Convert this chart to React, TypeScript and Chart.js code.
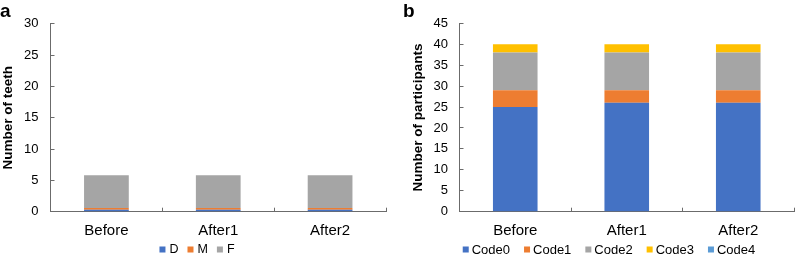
import React, { useEffect, useRef } from "react";
import { Chart, registerables } from "chart.js";

Chart.register(...registerables);

// ---------- data ----------
const CATEGORIES = ["Before", "After1", "After2"];

const TEETH_LABELS = ["D", "M", "F"];
const TEETH_D = [0.3, 0.3, 0.3];
const TEETH_M = [0.3, 0.3, 0.3];
const TEETH_F = [5.2, 5.2, 5.2];

const CODE_LABELS = ["Code0", "Code1", "Code2", "Code3", "Code4"];
const CODE0 = [25, 26, 26];
const CODE1 = [4, 3, 3];
const CODE2 = [9, 9, 9];
const CODE3 = [2, 2, 2];
const CODE4 = [0, 0, 0];

const TEETH_AXIS = { min: 0, max: 30, step: 5 };
const PART_AXIS = { min: 0, max: 45, step: 5 };

// ---------- style ----------
const FONT = "'Liberation Sans', Arial, Helvetica, sans-serif";
const COLORS = ["#4472C4", "#ED7D31", "#A5A5A5", "#FFC000", "#5B9BD5"];
const AXIS_COLOR = "#6b6b6b";

const decorPlugin = {
  id: "panelDecor",
  afterDraw(chart: any, _args: any, opts: any) {
    const ctx = chart.ctx;
    ctx.save();
    ctx.font = `bold 19px ${FONT}`;
    ctx.fillStyle = "#000";
    ctx.textAlign = "left";
    ctx.textBaseline = "alphabetic";
    ctx.fillText(opts.letter, opts.letterX, opts.letterY);

    ctx.font = `${opts.legendSize}px ${FONT}`;
    const box = 6;
    const items = chart.data.datasets.map((d: any) => ({ text: d.label, color: d.backgroundColor }));
    const widths = items.map((it: any) => box + opts.boxGap + ctx.measureText(it.text).width);
    const total = widths.reduce((a: number, b: number) => a + b, 0) + opts.spacing * (items.length - 1);
    let x = opts.legendCenter - total / 2;
    const y = opts.legendY;
    ctx.textBaseline = "middle";
    items.forEach((it: any, i: number) => {
      ctx.fillStyle = it.color;
      ctx.fillRect(x, y - box / 2, box, box);
      ctx.fillStyle = "#000";
      ctx.fillText(it.text, x + box + opts.boxGap, y + 0.5);
      x += widths[i] + opts.spacing;
    });
    ctx.restore();
  },
};

type PanelProps = {
  left: number;
  width: number;
  labels: string[];
  series: number[][];
  axis: { min: number; max: number; step: number };
  yTitle: string;
  padLeft: number;
  padRight: number;
  yAxisWidth: number;
  yTickPad: number;
  letter: string;
  letterX: number;
  legendCenter: number;
  legendSize: number;
  spacing: number;
  boxGap: number;
};

function BarPanel(p: PanelProps) {
  const ref = useRef<HTMLCanvasElement | null>(null);
  useEffect(() => {
    if (!ref.current) return;
    const chart = new Chart(ref.current, {
      type: "bar",
      data: {
        labels: CATEGORIES,
        datasets: p.series.map((vals, i) => ({
          label: p.labels[i],
          data: vals,
          backgroundColor: COLORS[i],
          borderWidth: 0,
          categoryPercentage: 1,
          barPercentage: 0.4,
        })),
      },
      options: {
        responsive: false,
        animation: false,
        devicePixelRatio: 1,
        layout: { padding: { top: 23, left: p.padLeft, right: p.padRight, bottom: 0 } },
        plugins: {
          legend: { display: false },
          tooltip: { enabled: false },
          panelDecor: {
            letter: p.letter,
            letterX: p.letterX,
            letterY: 16.5,
            legendCenter: p.legendCenter,
            legendY: 249.5,
            legendSize: p.legendSize,
            spacing: p.spacing,
            boxGap: p.boxGap,
          },
        } as any,
        scales: {
          x: {
            stacked: true,
            grid: {
              display: true,
              drawOnChartArea: false,
              offset: true,
              color: AXIS_COLOR,
              tickLength: -4,
              lineWidth: 1,
            },
            border: { display: true, color: AXIS_COLOR, width: 1 },
            ticks: { color: "#000", font: { family: FONT, size: 15 }, padding: 14 },
            afterFit: (s: any) => {
              s.height = 43.3;
            },
          },
          y: {
            stacked: true,
            min: p.axis.min,
            max: p.axis.max,
            grid: {
              display: true,
              drawOnChartArea: false,
              color: AXIS_COLOR,
              tickLength: -4,
              lineWidth: 1,
            },
            border: { display: true, color: AXIS_COLOR, width: 1 },
            ticks: {
              stepSize: p.axis.step,
              color: "#000",
              font: { family: FONT, size: 13 },
              padding: p.yTickPad,
            },
            title: {
              display: true,
              text: p.yTitle,
              color: "#000",
              font: { family: FONT, size: 13.5, weight: "bold" },
              padding: 0,
            },
            afterFit: (s: any) => {
              s.width = p.yAxisWidth;
            },
          },
        },
      },
      plugins: [decorPlugin as any],
    });
    return () => chart.destroy();
  }, []);
  return (
    <div style={{ position: "absolute", left: p.left, top: 0, width: p.width, height: 255 }}>
      <canvas ref={ref} width={p.width} height={255} style={{ width: p.width, height: 255, display: "block" }} />
    </div>
  );
}

export default function App() {
  return (
    <div style={{ position: "absolute", left: 0, top: 0, width: 796, height: 255, background: "#fff" }}>
      <BarPanel
        left={0}
        width={398}
        labels={TEETH_LABELS}
        series={[TEETH_D, TEETH_M, TEETH_F]}
        axis={TEETH_AXIS}
        yTitle="Number of teeth"
        padLeft={0}
        padRight={12}
        yAxisWidth={50.5}
        yTickPad={16}
        letter="a"
        letterX={0}
        legendCenter={197}
        legendSize={12.5}
        spacing={9}
        boxGap={4}
      />
      <BarPanel
        left={398}
        width={398}
        labels={CODE_LABELS}
        series={[CODE0, CODE1, CODE2, CODE3, CODE4]}
        axis={PART_AXIS}
        yTitle="Number of participants"
        padLeft={12}
        padRight={2}
        yAxisWidth={49.5}
        yTickPad={15.5}
        letter="b"
        letterX={5}
        legendCenter={211}
        legendSize={13}
        spacing={14}
        boxGap={3}
      />
    </div>
  );
}
